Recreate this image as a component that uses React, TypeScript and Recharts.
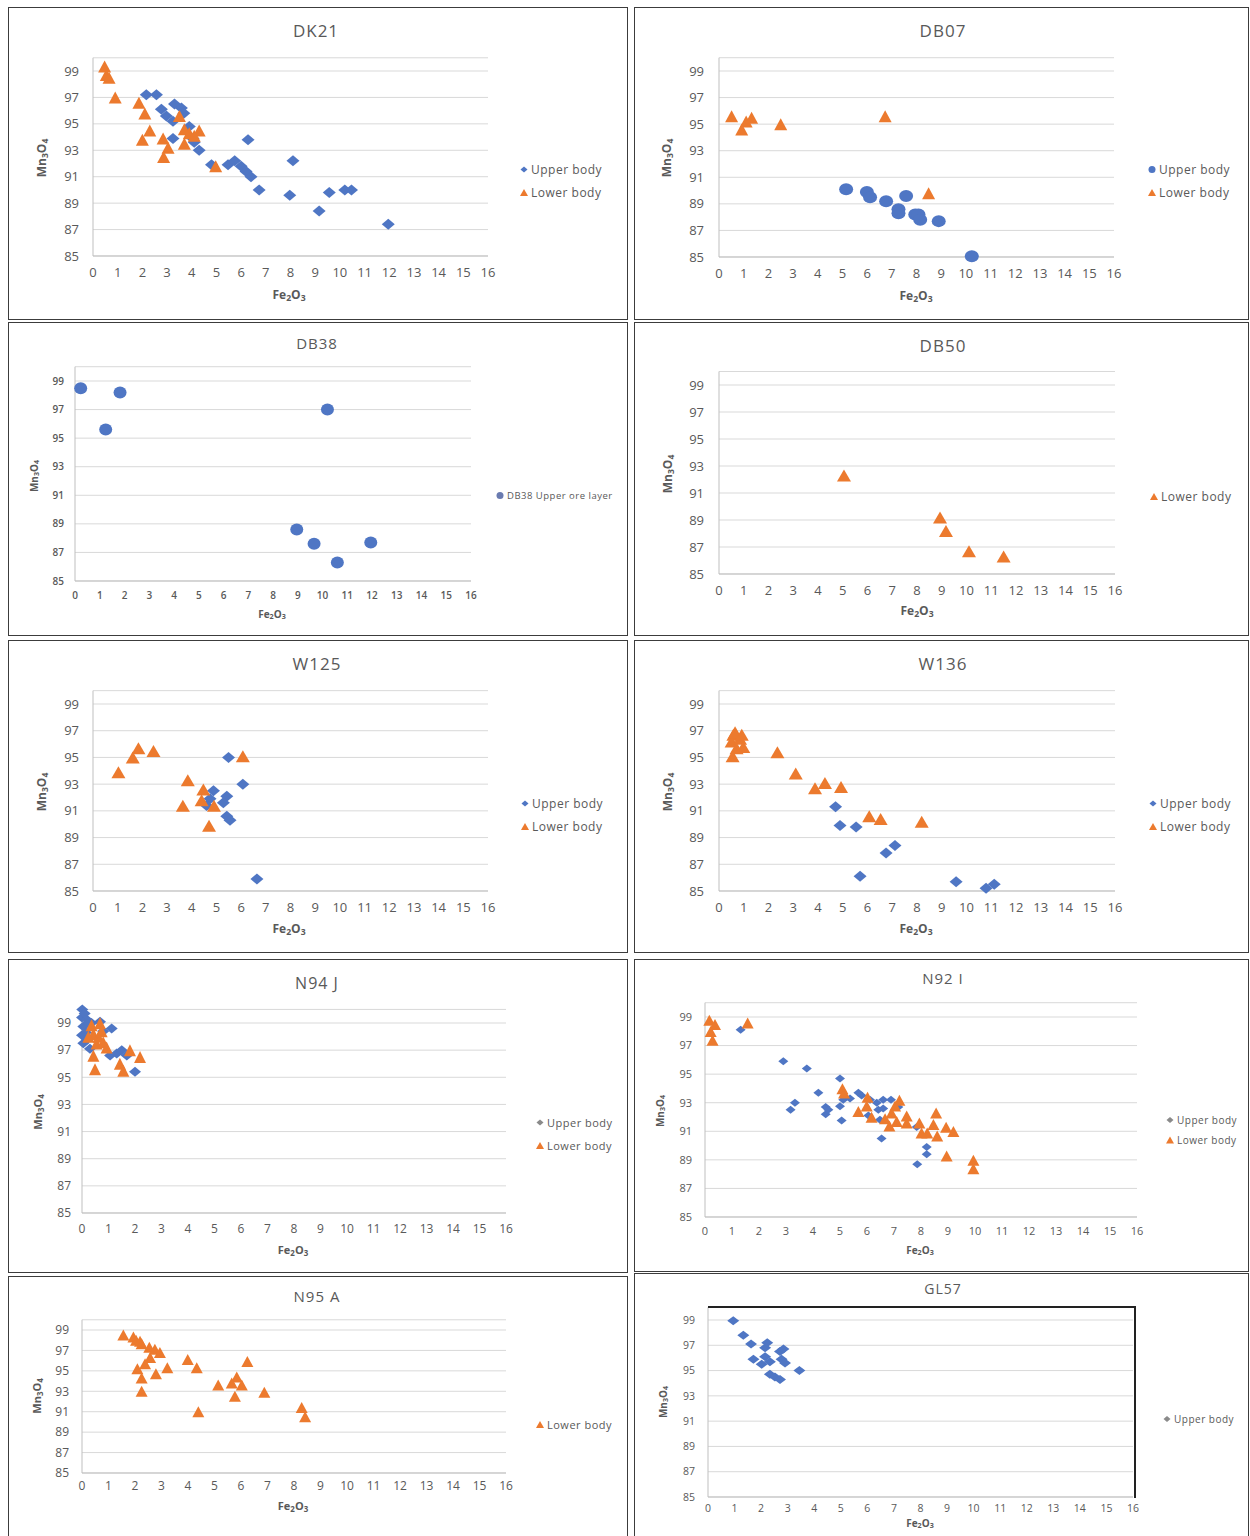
import React from 'react';
import { ScatterChart, Scatter, XAxis, YAxis, CartesianGrid } from 'recharts';

// [Fe2O3, Mn3O4] pairs
const dk21Upper = [
  [2.16, 97.2], [2.57, 97.2], [2.77, 96.1], [2.97, 95.6], [3.24, 95.2], [3.24, 93.9], [3.3, 96.5],
  [3.58, 96.2], [3.68, 95.8], [3.9, 94.8], [4.05, 93.9], [4.1, 93.6], [4.3, 93.0], [4.8, 91.9],
  [5.47, 91.9], [5.74, 92.2], [6.0, 91.8], [6.2, 91.4], [6.4, 91.0], [6.28, 93.8], [6.73, 90.0],
  [7.97, 89.6], [8.1, 92.2], [9.16, 88.4], [9.57, 89.8], [10.2, 90.0], [10.47, 90.0], [11.96, 87.4],
];
const dk21Lower = [
  [0.47, 99.25], [0.54, 98.6], [0.65, 98.4], [0.9, 96.9], [1.86, 96.5], [2.1, 95.7], [2.0, 93.7],
  [2.3, 94.4], [2.84, 93.8], [3.04, 93.1], [2.86, 92.4], [3.5, 95.5], [3.7, 94.5], [3.7, 93.4],
  [3.9, 94.2], [4.3, 94.4], [4.1, 94.0], [4.97, 91.7],
];
const db07Upper = [
  [5.15, 90.1], [5.99, 89.9], [6.12, 89.5], [6.77, 89.2], [7.58, 89.6], [7.27, 88.6], [7.27, 88.3],
  [7.95, 88.2], [8.08, 88.2], [8.15, 87.8], [8.9, 87.7], [10.24, 85.05],
];
const db07Lower = [[0.51, 95.5], [0.92, 94.5], [1.1, 95.1], [1.32, 95.4], [2.5, 94.9], [6.73, 95.5], [8.49, 89.7]];
const db38Upper = [[0.23, 98.5], [1.24, 95.6], [1.82, 98.2], [10.2, 97.0], [8.96, 88.6], [9.66, 87.6], [10.6, 86.3], [11.95, 87.7]];
const db50Lower = [[5.05, 92.2], [8.93, 89.1], [9.17, 88.1], [10.1, 86.6], [11.5, 86.2]];
const w125Upper = [
  [5.49, 95.0], [6.07, 93.0], [4.88, 92.5], [4.74, 91.9], [4.6, 91.4], [5.42, 92.1], [5.28, 91.6],
  [5.42, 90.6], [5.55, 90.3], [6.64, 85.9],
];
const w125Lower = [
  [1.03, 93.8], [1.61, 94.9], [1.84, 95.6], [2.45, 95.4], [3.84, 93.2], [3.64, 91.3], [4.47, 92.5],
  [4.4, 91.7], [4.9, 91.3], [4.7, 89.8], [6.07, 95.0],
];
const w136Upper = [
  [4.71, 91.3], [4.89, 89.9], [5.54, 89.8], [5.7, 86.1], [6.75, 87.85], [7.11, 88.4], [9.58, 85.7],
  [10.79, 85.2], [11.12, 85.5],
];
const w136Lower = [
  [0.58, 96.6], [0.51, 96.1], [0.85, 96.3], [0.98, 95.7], [0.71, 95.6], [0.55, 95.0], [0.65, 96.8],
  [0.92, 96.6], [2.36, 95.3], [3.1, 93.7], [3.88, 92.6], [4.28, 93.0], [4.93, 92.7], [6.07, 90.5],
  [6.53, 90.3], [8.19, 90.1],
];
const n94jUpper = [
  [0.01, 100.0], [0, 99.4], [0.05, 98.75], [0, 98.1], [0.05, 97.5], [0.18, 99.25], [0.36, 99.0],
  [0.68, 99.1], [1.12, 98.6], [0.8, 98.4], [1.06, 96.6], [1.31, 96.75], [1.5, 97.0], [1.69, 96.6],
  [2.0, 95.4], [0.3, 97.1], [0.1, 99.7], [0.15, 98.3], [0.2, 97.8], [0.25, 99.0],
];
const n94jLower = [
  [0.36, 98.75], [0.68, 98.9], [0.43, 98.1], [0.62, 97.9], [0.55, 97.4], [0.8, 97.5], [0.93, 97.1],
  [0.43, 96.5], [0.49, 95.5], [1.43, 95.9], [1.56, 95.4], [1.81, 96.9], [2.19, 96.4], [0.24, 97.9],
  [0.74, 98.3],
];
const n92iUpper = [
  [1.32, 98.1], [2.9, 95.9], [3.77, 95.4], [5.0, 94.7], [4.2, 93.7], [3.33, 93.0], [3.17, 92.5],
  [4.47, 92.7], [4.47, 92.2], [4.57, 92.5], [5.06, 91.75], [5.0, 92.75], [5.12, 93.2], [5.37, 93.3],
  [5.68, 93.7], [5.8, 93.5], [6.11, 93.2], [6.36, 93.0], [6.6, 93.2], [6.89, 93.2], [6.42, 92.5],
  [6.6, 92.6], [7.16, 92.7], [6.05, 92.1], [6.48, 91.8], [6.54, 90.5], [7.84, 91.3], [8.21, 89.9],
  [8.21, 89.4], [7.86, 88.7],
];
const n92iLower = [
  [0.16, 98.7], [0.37, 98.4], [0.21, 97.9], [0.28, 97.3], [1.58, 98.5], [5.09, 93.9], [5.15, 93.6],
  [5.68, 92.3], [5.99, 92.7], [6.02, 93.3], [6.17, 91.9], [6.67, 91.8], [6.83, 91.3], [6.91, 92.2],
  [7.1, 91.6], [7.2, 93.1], [7.04, 92.7], [7.47, 92.0], [7.47, 91.5], [7.94, 91.5], [8.02, 90.8],
  [8.23, 90.8], [8.56, 92.2], [8.46, 91.4], [8.6, 90.6], [8.93, 91.2], [9.2, 90.9], [8.95, 89.2],
  [9.94, 88.9], [9.94, 88.3],
];
const n95aLower = [
  [1.56, 98.4], [1.94, 98.2], [2.04, 97.9], [2.19, 97.8], [2.25, 97.55], [2.54, 97.2], [2.75, 97.0],
  [2.94, 96.7], [2.57, 96.2], [2.38, 95.6], [2.09, 95.1], [2.25, 94.2], [2.25, 92.9], [2.79, 94.6],
  [3.22, 95.2], [3.99, 96.0], [4.33, 95.2], [4.39, 90.9], [5.14, 93.5], [5.77, 92.4], [5.65, 93.7],
  [5.84, 94.3], [6.03, 93.5], [6.24, 95.8], [6.88, 92.8], [8.29, 91.3], [8.42, 90.4],
];
const gl57Upper = [
  [0.95, 98.95], [1.33, 97.8], [1.62, 97.1], [1.71, 95.9], [2.02, 95.5], [2.15, 96.8], [2.23, 97.2],
  [2.15, 96.1], [2.33, 95.7], [2.71, 96.5], [2.84, 96.7], [2.77, 95.9], [2.9, 95.6], [2.33, 94.7],
  [2.52, 94.5], [2.71, 94.3], [3.44, 95.0],
];

const xTicks = [0, 1, 2, 3, 4, 5, 6, 7, 8, 9, 10, 11, 12, 13, 14, 15, 16];
const yTicks = [85, 87, 89, 91, 93, 95, 97, 99];

const BLUE = '#4f76c4';
const ORANGE = '#ec7a2e';
const GREY = '#8a8a8a';
const TEXT = '#595959';
const FONT = '"Open Sans", "Noto Sans", sans-serif';

type Kind = 'diamond' | 'triangle' | 'circle';
type Series = { name: string; data: number[][]; kind: Kind; color: string; w: number; h: number; icon?: string };
type Cfg = {
  title: string; box: number[]; plot: number[]; titleAt: number[]; titleSize: number;
  tick: number; bold?: boolean; xGap: number; yGap: number;
  xLabel: number[]; yLabel: number[]; labelSize: number;
  legend: number[]; legendSize: number; series: Series[]; frame?: boolean;
};

const up = (data: number[][], kind: Kind, w: number, h: number, icon = BLUE, name = 'Upper body'): Series =>
  ({ name, data, kind, color: BLUE, w, h, icon });
const low = (data: number[][], w: number, h: number): Series =>
  ({ name: 'Lower body', data, kind: 'triangle', color: ORANGE, w, h, icon: ORANGE });

const panels: Cfg[] = [
  { title: 'DK21', box: [8, 7, 620, 313], plot: [93, 488, 71, 256], titleAt: [316, 30], titleSize: 17, tick: 13,
    xGap: 16, yGap: 14, xLabel: [289, 295], yLabel: [42, 158], labelSize: 12, legend: [524, 169, 23], legendSize: 12,
    series: [up(dk21Upper, 'diamond', 13, 11), low(dk21Lower, 13, 12)] },
  { title: 'DB07', box: [634, 7, 615, 313], plot: [719, 1114, 71, 257], titleAt: [943, 30], titleSize: 17, tick: 13,
    xGap: 16, yGap: 15, xLabel: [916, 296], yLabel: [667, 158], labelSize: 12, legend: [1152, 169, 23], legendSize: 12,
    series: [up(db07Upper, 'circle', 14, 12), low(db07Lower, 13, 12)] },
  { title: 'DB38', box: [8, 322, 620, 314], plot: [75, 471, 381, 581], titleAt: [317, 343], titleSize: 15, tick: 10, bold: true,
    xGap: 14, yGap: 11, xLabel: [272, 614], yLabel: [34, 476], labelSize: 10, legend: [500, 495, 0], legendSize: 9.5,
    series: [up(db38Upper, 'circle', 13, 12, '#6a7bb0', 'DB38 Upper ore layer')] },
  { title: 'DB50', box: [634, 322, 615, 314], plot: [719, 1115, 385, 574], titleAt: [943, 345], titleSize: 17, tick: 13,
    xGap: 16, yGap: 15, xLabel: [917, 611], yLabel: [668, 474], labelSize: 12, legend: [1154, 496, 0], legendSize: 12,
    series: [low(db50Lower, 14, 12)] },
  { title: 'W125', box: [8, 640, 620, 313], plot: [93, 488, 704, 891], titleAt: [317, 663], titleSize: 17, tick: 13,
    xGap: 16, yGap: 14, xLabel: [289, 929], yLabel: [42, 792], labelSize: 12, legend: [525, 803, 23], legendSize: 12,
    series: [up(w125Upper, 'diamond', 13, 11), low(w125Lower, 14, 12)] },
  { title: 'W136', box: [634, 640, 615, 313], plot: [719, 1115, 704, 891], titleAt: [943, 663], titleSize: 17, tick: 13,
    xGap: 16, yGap: 15, xLabel: [916, 929], yLabel: [668, 792], labelSize: 12, legend: [1153, 803, 23], legendSize: 12,
    series: [up(w136Upper, 'diamond', 13, 11), low(w136Lower, 14, 12)] },
  { title: 'N94 J', box: [8, 959, 620, 314], plot: [82, 506, 1023, 1213], titleAt: [317, 983], titleSize: 16, tick: 12,
    xGap: 16, yGap: 11, xLabel: [293, 1250], yLabel: [38, 1112], labelSize: 11, legend: [540, 1122, 23], legendSize: 11,
    series: [up(n94jUpper, 'diamond', 12, 10, GREY), low(n94jLower, 12, 12)] },
  { title: 'N92 I', box: [634, 959, 615, 313], plot: [705, 1137, 1017, 1217], titleAt: [943, 978], titleSize: 15, tick: 11,
    xGap: 14, yGap: 13, xLabel: [920, 1250], yLabel: [660, 1111], labelSize: 10, legend: [1170, 1120, 20], legendSize: 10,
    series: [up(n92iUpper, 'diamond', 10, 8, GREY), low(n92iLower, 12, 11)] },
  { title: 'N95 A', box: [8, 1276, 620, 270], plot: [82, 506, 1330, 1473], titleAt: [317, 1296], titleSize: 15, tick: 12,
    xGap: 13, yGap: 13, xLabel: [293, 1506], yLabel: [37, 1396], labelSize: 11, legend: [540, 1424, 0], legendSize: 11,
    series: [low(n95aLower, 12, 11)] },
  { title: 'GL57', box: [634, 1273, 615, 270], plot: [708, 1133, 1320, 1497], titleAt: [943, 1288], titleSize: 14, tick: 10.5,
    xGap: 11, yGap: 13, xLabel: [920, 1523], yLabel: [663, 1402], labelSize: 10, legend: [1167, 1419, 0], legendSize: 10,
    series: [up(gl57Upper, 'diamond', 12, 9, GREY)], frame: true },
];

function marker(kind: Kind, color: string, w: number, h: number) {
  return (p: any) => {
    const { cx, cy } = p;
    if (cx == null || cy == null) return <g />;
    if (kind === 'circle') return <ellipse cx={cx} cy={cy} rx={w / 2} ry={h / 2} fill={color} />;
    if (kind === 'diamond') {
      return <polygon points={`${cx},${cy - h / 2} ${cx + w / 2},${cy} ${cx},${cy + h / 2} ${cx - w / 2},${cy}`} fill={color} />;
    }
    return <polygon points={`${cx},${cy - h * 0.6} ${cx + w / 2},${cy + h * 0.4} ${cx - w / 2},${cy + h * 0.4}`} fill={color} />;
  };
}

function Chem({ a, b }: { a: string; b: string }) {
  const sub = { fontSize: '0.72em', verticalAlign: '-0.22em' };
  return <>{a}<span style={sub}>{b === 'Fe' ? '2' : '3'}</span>O<span style={sub}>{b === 'Fe' ? '3' : '4'}</span></>;
}

function Icon({ kind, color }: { kind: Kind; color: string }) {
  const d = kind === 'circle' ? <circle cx={4} cy={4} r={3.5} fill={color} />
    : kind === 'diamond' ? <polygon points="4,1 7.5,4 4,7 0.5,4" fill={color} />
    : <polygon points="4,0.5 8,7.5 0,7.5" fill={color} />;
  return <svg width={8} height={8} style={{ marginRight: 3, display: 'inline-block' }}>{d}</svg>;
}

function Panel({ c }: { c: Cfg }) {
  const [bx, by, bw, bh] = c.box;
  const [x0, x16, y99, y85] = c.plot;
  const y100 = y99 - (y85 - y99) / 14;
  const yW = 20;
  const xH = 10;
  const margin = { top: y100 - by, left: x0 - bx - yW, right: bx + bw - x16, bottom: by + bh - y85 - xH };
  const tickStyle = { fontSize: c.tick, fill: TEXT, fontFamily: FONT, fontWeight: c.bold ? 600 : 400 };
  const center = { position: 'absolute' as const, transform: 'translate(-50%, -50%)', whiteSpace: 'nowrap' as const, color: TEXT, fontFamily: FONT };

  return (
    <>
      <div style={{ position: 'absolute', left: bx, top: by, width: bw, height: bh, boxSizing: 'border-box', border: '1.5px solid #3c3c3c' }} />
      <div style={{ position: 'absolute', left: bx, top: by }}>
        <ScatterChart width={bw} height={bh} margin={margin}>
          <CartesianGrid vertical={false} stroke="#d9d9d9" />
          <XAxis type="number" dataKey="x" domain={[0, 16]} ticks={xTicks} interval={0} height={xH}
            tickSize={0} tickMargin={c.xGap - 0.35 * c.tick} tickLine={false} axisLine={{ stroke: '#bfbfbf' }}
            tick={tickStyle} />
          <YAxis type="number" dataKey="y" domain={[85, 100]} ticks={yTicks} interval={0} width={yW}
            tickSize={0} tickMargin={c.yGap} tickLine={false} axisLine={{ stroke: '#bfbfbf' }}
            tick={tickStyle} />
          {c.series.map((s) => (
            <Scatter key={s.name} name={s.name} data={s.data.map(([x, y]) => ({ x, y }))}
              shape={marker(s.kind, s.color, s.w, s.h)} isAnimationActive={false} />
          ))}
        </ScatterChart>
      </div>
      {c.frame && (
        <div style={{ position: 'absolute', left: x0, top: y100 - 1, width: x16 - x0 + 1, height: y85 - y100,
          borderTop: '2px solid #222', borderRight: '2px solid #222' }} />
      )}
      <div style={{ ...center, left: c.titleAt[0], top: c.titleAt[1], fontSize: c.titleSize, letterSpacing: 1 }}>{c.title}</div>
      <div style={{ ...center, left: c.xLabel[0], top: c.xLabel[1], fontSize: c.labelSize, fontWeight: 700 }}>
        <Chem a="Fe" b="Fe" />
      </div>
      <div style={{ ...center, left: c.yLabel[0], top: c.yLabel[1], fontSize: c.labelSize, fontWeight: 700,
        transform: 'translate(-50%, -50%) rotate(-90deg)' }}>
        <Chem a="Mn" b="Mn" />
      </div>
      {c.series.map((s, i) => (
        <div key={s.name} style={{ position: 'absolute', left: c.legend[0] - 4, top: c.legend[1] + i * c.legend[2],
          transform: 'translateY(-50%)', display: 'flex', alignItems: 'center', whiteSpace: 'nowrap',
          fontSize: c.legendSize, color: TEXT, fontFamily: FONT, letterSpacing: 0.5 }}>
          <Icon kind={s.kind} color={s.icon || s.color} />
          {s.name}
        </div>
      ))}
    </>
  );
}

export default function App() {
  return (
    <div style={{ position: 'absolute', left: 0, top: 0, width: 1250, height: 1536, background: '#fff', overflow: 'hidden' }}>
      {panels.map((c) => <Panel key={c.title} c={c} />)}
    </div>
  );
}
